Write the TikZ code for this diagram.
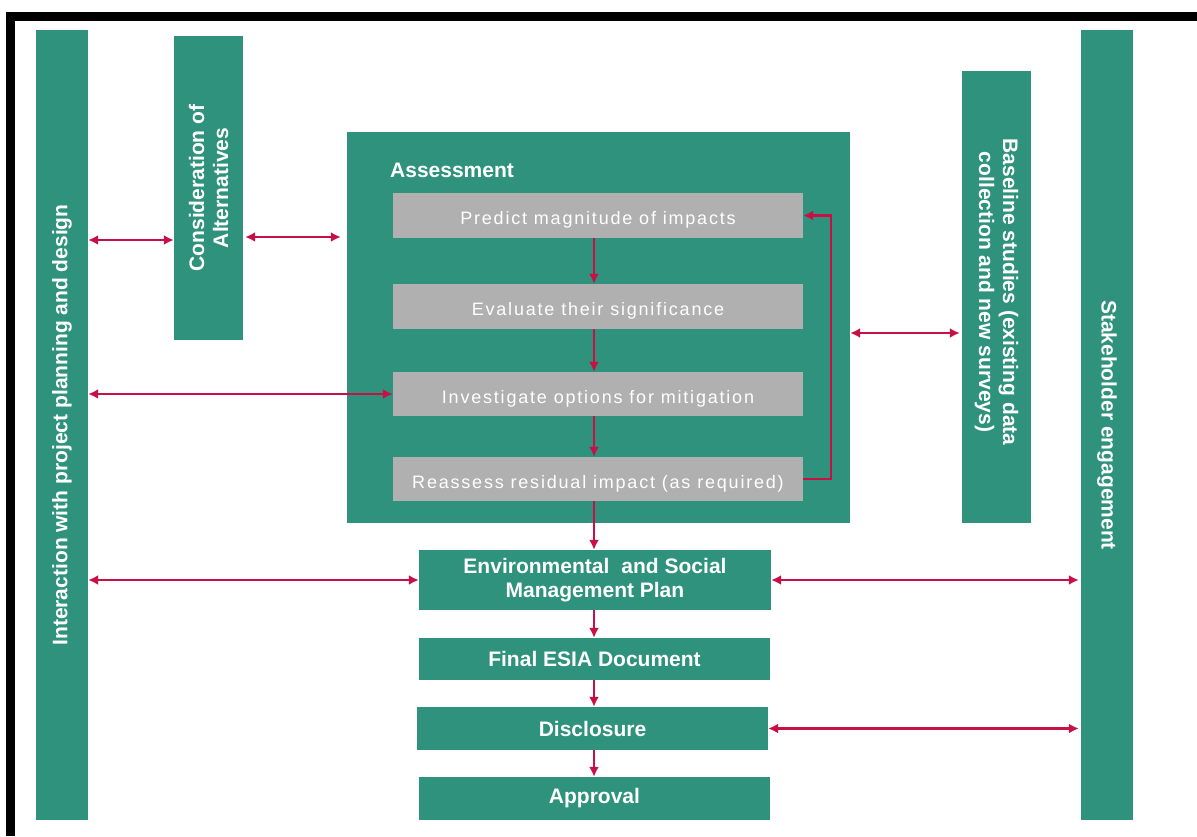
\documentclass[tikz,border=0pt]{standalone}
\usepackage{fontspec}
\setmainfont{Liberation Sans}
\newfontfamily\greyfont[LetterSpace=10]{Liberation Sans}
\usetikzlibrary{arrows.meta}
\definecolor{esgreen}{RGB}{46,146,124}
\definecolor{esgrey}{RGB}{176,176,176}
\definecolor{escrim}{RGB}{200,16,70}
\begin{document}
\begin{tikzpicture}[x=1pt,y=-1pt,
  gbox/.style={fill=esgreen, draw=none, inner sep=0pt, text=white, font=\fontsize{21}{24}\selectfont\bfseries, align=center},
  vtext/.style={inner sep=0pt, text=white, font=\fontsize{21}{24}\selectfont\bfseries, align=center},
  greybox/.style={fill=esgrey, draw=none, inner sep=0pt, text=white, font=\greyfont\fontsize{18}{20}\selectfont, minimum width=410pt, text height=18pt, text depth=0pt},
  arr/.style={draw=escrim, line width=2.6pt, -{Latex[length=10pt,width=10pt]}},
  darr/.style={draw=escrim, line width=2.6pt, {Latex[length=10pt,width=10pt]}-{Latex[length=10pt,width=10pt]}},
  border/.style={fill=black, draw=none}
]
\useasboundingbox (0,0) rectangle (1197,836);
\fill[white] (0,0) rectangle (1197,836);
% frame
\fill[border] (6,12) rectangle (1197,21);
\fill[border] (6,12) rectangle (15,836);

% side bars
\node[gbox, minimum width=52pt, minimum height=790pt] (left) at (62,425) {};
\node[vtext, rotate=90] (lefttxt) at (left.center) {Interaction with project planning and design};
\node[gbox, minimum width=69pt, minimum height=304pt] (consid) at (208.5,188) {};
\node[vtext, rotate=90] (considtxt) at (consid.center) {Consideration of\\Alternatives};
\node[gbox, minimum width=69pt, minimum height=452pt] (base) at (996.5,297) {};
\node[vtext, rotate=-90] (basetxt) at (996.5,292) {Baseline studies (existing data\\collection and new surveys)};
\node[gbox, minimum width=52pt, minimum height=790pt] (stake) at (1107,425) {};
\node[vtext, rotate=-90] (staketxt) at (stake.center) {Stakeholder engagement};

% assessment
\node[gbox, minimum width=503pt, minimum height=391pt] (assess) at (598.5,327.5) {};
\node[vtext, anchor=west] (assesstxt) at (390,170) {Assessment};
\node[greybox, minimum height=45pt] (pred) at (598,215.5) {Predict magnitude of impacts};
\node[greybox, minimum height=45pt] (eval) at (598,306.5) {Evaluate their significance};
\node[greybox, minimum height=44pt] (inv) at (598,394) {Investigate options for mitigation};
\node[greybox, minimum height=44pt] (reass) at (598,479) {Reassess residual impact (as required)};

% lower chain
\node[gbox, minimum width=352pt, minimum height=60pt] (esmp) at (595,580) {Environmental\hspace{0.3em} and Social\\Management Plan};
\node[gbox, minimum width=351pt, minimum height=42pt] (final) at (594.5,659) {Final ESIA Document};
\node[gbox, minimum width=351pt, minimum height=43pt] (disc) at (592.5,728.5) {Disclosure};
\node[gbox, minimum width=351pt, minimum height=43pt] (appr) at (594.5,798.5) {Approval};

% helper coordinates
\coordinate (vx) at (594,0);
\coordinate (y240) at (0,240);
\coordinate (y237) at (0,237);
\coordinate (y333) at (0,333);
\coordinate (loop) at (831,0);

% vertical arrows
\draw[arr] (pred.south -| vx) -- (eval.north -| vx);
\draw[arr] (eval.south -| vx) -- (inv.north -| vx);
\draw[arr] (inv.south -| vx) -- (reass.north -| vx);
\draw[arr] (reass.south -| vx) -- (esmp.north -| vx);
\draw[arr] (esmp.south -| vx) -- (final.north -| vx);
\draw[arr] (final.south -| vx) -- (disc.north -| vx);
\draw[arr] (disc.south -| vx) -- (appr.north -| vx);

% feedback loop
\draw[arr] (reass.east) -- (reass.east -| loop) -- (pred.east -| loop) -- (pred.east);

% horizontal arrows
\draw[darr] (left.east |- y240) -- (consid.west |- y240);
\draw[darr, shorten >=6pt, shorten <=2pt] (consid.east |- y237) -- (assess.west |- y237);
\draw[darr, shorten >=2pt] (assess.east |- y333) -- (base.west |- y333);
\draw[darr] (left.east |- inv.west) -- (inv.west);
\draw[darr] (left.east |- esmp.west) -- (esmp.west);
\draw[darr, shorten >=2pt] (esmp.east) -- (stake.west |- esmp.east);
\draw[darr, shorten >=2pt] (disc.east) -- (stake.west |- disc.east);
\end{tikzpicture}
\end{document}
